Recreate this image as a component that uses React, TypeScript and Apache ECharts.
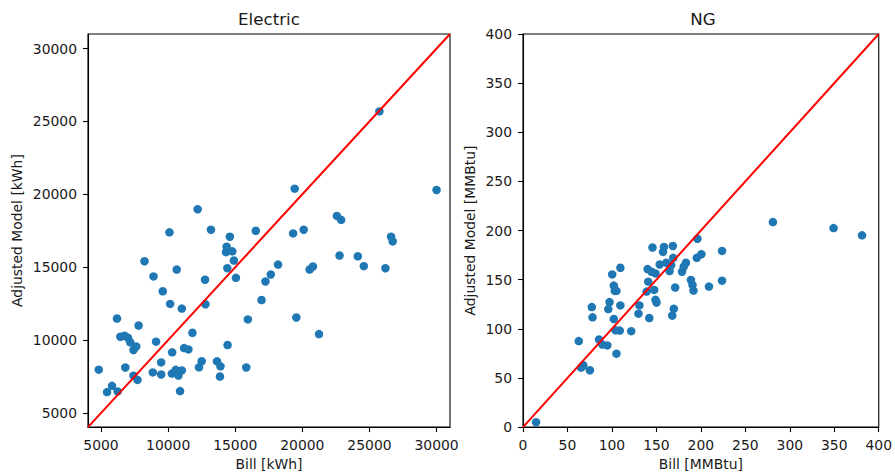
import React, { useEffect, useRef } from "react";
import * as echarts from "echarts";

const elecBill = [4830, 5450, 5820, 6240, 6190, 6440, 6750, 7010, 7180, 7420, 7620, 6810, 7420, 7720, 7800, 8240, 8910, 9100, 8860, 9480, 9480, 9600, 10100, 10150, 10300, 10280, 10570, 10770, 10640, 10890, 11020, 11020, 11190, 11510, 11810, 12200, 12300, 12500, 12780, 12750, 13190, 13640, 13900, 13860, 14360, 14310, 14600, 14780, 14410, 14430, 14900, 15050, 15820, 15940, 16530, 16960, 17250, 17650, 18190, 19310, 19430, 19550, 20100, 20540, 20790, 21240, 22570, 22890, 22770, 24130, 24580, 25740, 26190, 26610, 26730, 30000];
const elecModel = [7970, 6430, 6860, 6480, 11480, 10230, 10300, 10160, 9850, 9320, 9560, 8120, 7560, 7270, 11000, 15410, 14370, 9890, 7780, 8470, 7640, 13350, 17390, 12480, 9160, 7700, 7960, 7570, 14840, 6500, 12160, 7920, 9450, 9360, 10500, 18980, 8130, 8550, 12460, 14140, 17570, 8540, 8200, 7500, 16410, 16030, 17090, 16090, 14930, 9660, 15460, 14270, 8120, 11420, 17500, 12750, 14020, 14500, 15180, 17320, 20390, 11550, 17570, 14840, 15050, 10410, 18520, 18250, 15800, 15750, 15070, 25690, 14930, 17090, 16770, 20300];

const ngBill = [14.7, 62.7, 65.3, 67.8, 75.2, 77.4, 78.2, 85.5, 89.2, 94.8, 95.9, 97.3, 100.3, 102.1, 103.2, 105.1, 102.1, 104.0, 105.1, 108.8, 109.5, 109.5, 121.7, 129.8, 130.9, 139.0, 140.1, 140.8, 142.0, 145.6, 144.5, 147.5, 149.0, 149.0, 150.1, 153.7, 157.4, 158.5, 161.1, 164.8, 166.6, 167.8, 168.5, 168.9, 169.6, 171.1, 178.8, 180.7, 183.2, 188.8, 190.6, 191.7, 195.4, 196.1, 200.6, 209.1, 223.8, 223.8, 281.0, 349.2, 381.2];
const ngModel = [5.0, 87.5, 60.6, 62.9, 57.9, 122.1, 111.7, 89.1, 84.1, 83.1, 120.1, 127.2, 155.4, 144.0, 138.6, 138.6, 110.0, 98.6, 74.7, 98.2, 162.1, 123.8, 97.6, 115.4, 123.8, 137.9, 160.8, 148.0, 111.0, 182.7, 158.1, 139.6, 156.4, 129.5, 126.8, 165.5, 178.3, 183.3, 167.2, 158.8, 164.8, 113.4, 184.3, 172.2, 120.4, 142.0, 158.1, 163.2, 167.2, 149.7, 144.7, 138.9, 172.2, 191.7, 175.9, 143.0, 179.3, 149.0, 208.6, 202.5, 195.1];

const elecTicks = [5000, 10000, 15000, 20000, 25000, 30000];
const ngTicks = [0, 50, 100, 150, 200, 250, 300, 350, 400];
const elecRange = [4030, 31000];
const ngRange = [0, 400];

const FONT = "DejaVu Sans";
const TXT = "#1a1a1a";

function axis(gridIndex: number, range: number[], ticks: number[], name: string, isY: boolean) {
  return {
    type: "value",
    gridIndex,
    min: range[0],
    max: range[1],
    name,
    nameLocation: "middle",
    nameGap: isY ? (gridIndex === 0 ? 64 : 46) : 29,
    nameTextStyle: { fontFamily: FONT, fontSize: 13.9, color: TXT },
    splitLine: { show: false },
    axisLine: { show: true, onZero: false, lineStyle: { color: "#000", width: 1.1 } },
    axisTick: { show: true, inside: false, length: 5, customValues: ticks, lineStyle: { color: "#000", width: 1.1 } },
    axisLabel: {
      show: true,
      customValues: ticks,
      margin: isY ? 11 : 11,
      fontFamily: FONT,
      fontSize: 13.9,
      color: TXT,
      showMinLabel: true,
      showMaxLabel: true,
      formatter: (v: number) => String(v),
    },
  };
}

export default function App() {
  const ref = useRef<HTMLDivElement>(null);
  useEffect(() => {
    document.body.style.margin = "0";
    const chart = echarts.init(ref.current!, null, { renderer: "svg" });
    const elecPts = elecBill.map((b, i) => [b, elecModel[i]]);
    const ngPts = ngBill.map((b, i) => [b, ngModel[i]]);
    chart.setOption({
      animation: false,
      backgroundColor: "#fff",
      grid: [
        { left: 88, top: 34, width: 362, height: 396, show: true, borderColor: "#000", borderWidth: 1.1, backgroundColor: "transparent" },
        { left: 523, top: 34, width: 361, height: 396, show: true, borderColor: "#000", borderWidth: 1.1, backgroundColor: "transparent" },
      ],
      xAxis: [
        axis(0, elecRange, elecTicks, "Bill [kWh]", false),
        axis(1, ngRange, ngTicks, "Bill [MMBtu]", false),
      ],
      yAxis: [
        axis(0, elecRange, elecTicks, "Adjusted Model [kWh]", true),
        axis(1, ngRange, ngTicks, "Adjusted Model [MMBtu]", true),
      ],
      graphic: [
        { type: "text", x: 269, y: 19, style: { text: "Electric", font: `16.7px "${FONT}"`, fill: TXT, textAlign: "center", textVerticalAlign: "middle" } },
        { type: "text", x: 703, y: 19, style: { text: "NG", font: `16.7px "${FONT}"`, fill: TXT, textAlign: "center", textVerticalAlign: "middle" } },
      ],
      series: [
        { type: "scatter", xAxisIndex: 0, yAxisIndex: 0, data: elecPts, symbolSize: 8.5, itemStyle: { color: "#1f77b4", opacity: 1 }, z: 2 },
        { type: "line", xAxisIndex: 0, yAxisIndex: 0, data: [[elecRange[0], elecRange[0]], [elecRange[1], elecRange[1]]], showSymbol: false, symbol: "none", lineStyle: { color: "#ff0000", width: 2 }, z: 3 },
        { type: "scatter", xAxisIndex: 1, yAxisIndex: 1, data: ngPts, symbolSize: 8.5, itemStyle: { color: "#1f77b4", opacity: 1 }, z: 2 },
        { type: "line", xAxisIndex: 1, yAxisIndex: 1, data: [[ngRange[0], ngRange[0]], [ngRange[1], ngRange[1]]], showSymbol: false, symbol: "none", lineStyle: { color: "#ff0000", width: 2 }, z: 3 },
      ],
    });
    return () => chart.dispose();
  }, []);
  return <div ref={ref} style={{ width: 895, height: 476 }} />;
}
